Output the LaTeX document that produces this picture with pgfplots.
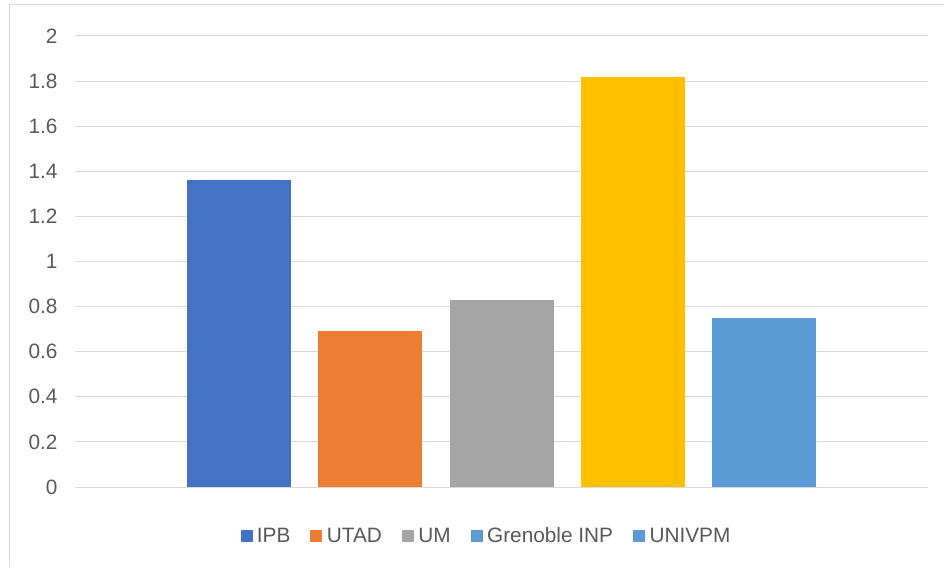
\documentclass[border=0pt]{standalone}
\usepackage{pgfplots}
\pgfplotsset{compat=1.18}
\usepackage{fontspec}
\setmainfont{Liberation Sans}
\definecolor{cIPB}{HTML}{4472C4}
\definecolor{cUTAD}{HTML}{ED7D31}
\definecolor{cUM}{HTML}{A5A5A5}
\definecolor{cGre}{HTML}{FFC000}
\definecolor{cUNI}{HTML}{5B9BD5}
\definecolor{txt}{HTML}{595959}
\definecolor{grd}{HTML}{D9D9D9}
\begin{document}
\begin{tikzpicture}[x=1pt,y=1pt]
\path[use as bounding box] (0,0) rectangle (944,567);
\draw[grd, line width=1pt] (9,0) -- (9,562) -- (944,562);
\begin{axis}[
    at={(75pt,80pt)}, anchor=south west,
    scale only axis,
    width=853pt, height=451pt,
    xmin=-1.25, xmax=5.25,
    ymin=0, ymax=2,
    axis line style={draw=none},
    ytick={0,0.2,0.4,0.6,0.8,1,1.2,1.4,1.6,1.8,2},
    xtick=\empty,
    ymajorgrids=true,
    grid style={grd, line width=1pt},
    major tick length=0pt,
    tick label style={font=\fontsize{20.8}{25}\selectfont, text=txt},
    yticklabel style={xshift=-14pt},
    /pgf/number format/assume math mode=true,
    clip=false,
    legend columns=-1,
    legend style={at={(0.4824,-0.1086)}, anchor=center, draw=none,
        font=\fontsize{20.8}{25}\selectfont, text=txt,
        /tikz/every odd column/.append style={column sep=3pt},
        /tikz/every even column/.append style={column sep=18pt}},
    legend image code/.code={\fill[#1] (0pt,-5.5pt) rectangle (11pt,5.5pt);},
]
\addplot[ybar, bar width=104pt, bar shift=0pt, fill=cIPB, draw=none, forget plot] coordinates {(0,1.36)};
\addplot[ybar, bar width=104pt, bar shift=0pt, fill=cUTAD, draw=none, forget plot] coordinates {(1,0.69)};
\addplot[ybar, bar width=104pt, bar shift=0pt, fill=cUM, draw=none, forget plot] coordinates {(2,0.83)};
\addplot[ybar, bar width=104pt, bar shift=0pt, fill=cGre, draw=none, forget plot] coordinates {(3,1.82)};
\addplot[ybar, bar width=104pt, bar shift=0pt, fill=cUNI, draw=none, forget plot] coordinates {(4,0.75)};
\addlegendimage{cIPB}
\addlegendentry{IPB}
\addlegendimage{cUTAD}
\addlegendentry{UTAD}
\addlegendimage{cUM}
\addlegendentry{UM}
\addlegendimage{cUNI}
\addlegendentry{Grenoble INP}
\addlegendimage{cUNI}
\addlegendentry{UNIVPM}
\end{axis}
\end{tikzpicture}
\end{document}
